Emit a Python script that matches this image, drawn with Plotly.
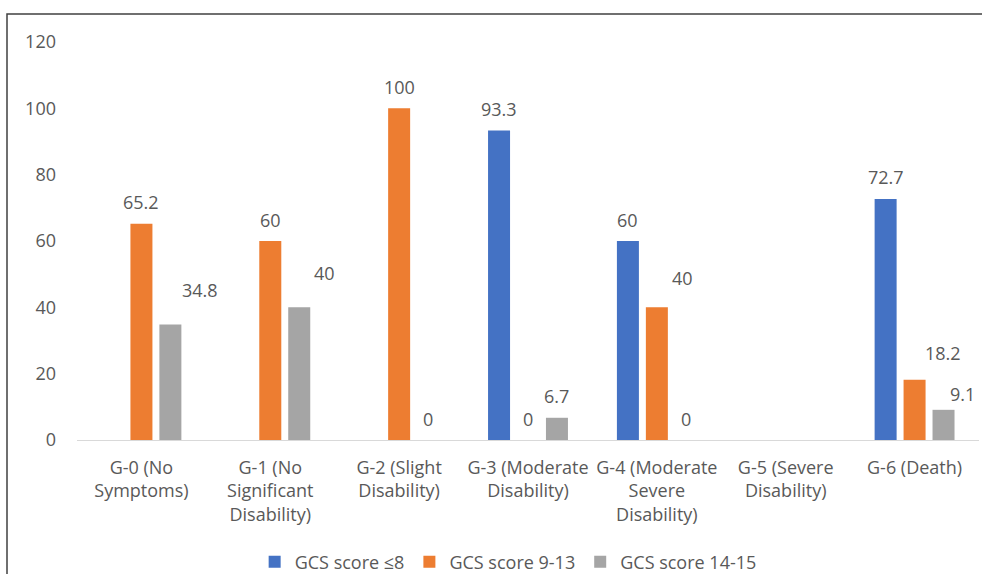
import plotly.graph_objects as go

categories = [
    "G-0 (No<br>Symptoms)",
    "G-1 (No<br>Significant<br>Disability)",
    "G-2 (Slight<br>Disability)",
    "G-3 (Moderate<br>Disability)",
    "G-4 (Moderate<br>Severe<br>Disability)",
    "G-5 (Severe<br>Disability)",
    "G-6 (Death)",
]
series_names = ["GCS score ≤8", "GCS score 9-13", "GCS score 14-15"]
gcs_le8 = [None, None, None, 93.3, 60, None, 72.7]
gcs_9_13 = [65.2, 60, 100, 0, 40, None, 18.2]
gcs_14_15 = [34.8, 40, 0, 6.7, 0, None, 9.1]
y_ticks = [0, 20, 40, 60, 80, 100, 120]

series_values = [gcs_le8, gcs_9_13, gcs_14_15]
colors = ["#4472C4", "#ED7D31", "#A5A5A5"]

# label nudges (pixels) for labels that were moved in the original
label_nudge = {(2, 0): (30, 13), (2, 1): (25, 12.5), (1, 4): (26, 7.5),
               (1, 6): (28.5, 5.5), (2, 6): (19, -6)}

FONT = "Open Sans"
TXT = "#595959"
BARGAP = 0.326
GROUPGAP = 0.24

W, H = 982, 574
ML, MR, MT, MB = 77, 3, 42, 134

xs = list(range(len(categories)))
fig = go.Figure()
for name, vals, col in zip(series_names, series_values, colors):
    fig.add_trace(go.Bar(x=xs, y=vals, name=name, marker_color=col,
                         marker_line_width=0, hoverinfo="skip"))

slot = (1 - BARGAP) / len(series_values)
annotations = []
for i, vals in enumerate(series_values):
    for j, v in enumerate(vals):
        if v is None:
            continue
        dx, dy = label_nudge.get((i, j), (0, 0))
        annotations.append(dict(
            x=j + (i - 1) * slot, y=v, xref="x", yref="y",
            text=f"{v:g}", showarrow=False,
            xshift=dx, yshift=21.5 + dy, yanchor="middle", xanchor="center",
            font=dict(family=FONT, size=18, color=TXT)))

pw = W - ML - MR
ph = H - MT - MB
fx0 = (7 - ML) / pw
fy1 = (H - MB - 14) / ph

fig.update_layout(
    width=W, height=H,
    margin=dict(l=ML, r=MR, t=MT, b=MB, autoexpand=False),
    paper_bgcolor="white", plot_bgcolor="white",
    barmode="group", bargap=BARGAP, bargroupgap=GROUPGAP,
    font=dict(family=FONT, size=18, color=TXT),
    annotations=annotations,
    showlegend=True,
    legend=dict(orientation="h", x=0.478, xanchor="center", y=-0.3065,
                yanchor="middle", font=dict(family=FONT, size=18, color=TXT),
                itemclick=False),
    shapes=[dict(type="rect", xref="paper", yref="paper",
                 x0=fx0, x1=1.2, y0=-0.6, y1=fy1,
                 line=dict(color="#404040", width=1.5))],
    xaxis=dict(range=[-0.5, len(categories) - 0.5], tickvals=xs,
               ticktext=categories, showgrid=False, zeroline=False,
               showline=True, linecolor="#D9D9D9", linewidth=1.3,
               ticks="", automargin=False, ticklabelstandoff=11,
               tickfont=dict(family=FONT, size=18, color=TXT)),
    yaxis=dict(range=[0, 120], tickvals=y_ticks, showgrid=False,
               zeroline=False, showline=False, ticks="", automargin=False,
               ticklabelstandoff=20,
               tickfont=dict(family=FONT, size=18, color=TXT)),
)

fig.write_html("out.html")
